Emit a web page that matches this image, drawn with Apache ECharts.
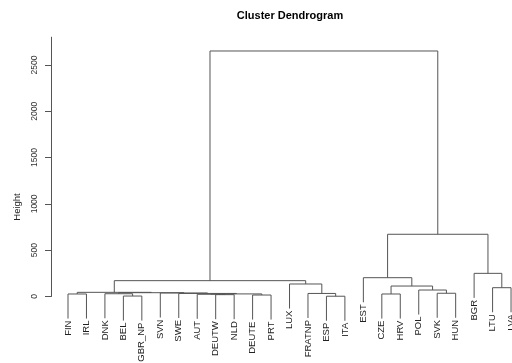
<!DOCTYPE html>
<html>
<head>
<meta charset="utf-8">
<script src="https://cdn.jsdelivr.net/npm/echarts@6/dist/echarts.min.js"></script>
<style>
  html, body { margin: 0; padding: 0; background: #fff; }
  #chart { width: 512px; height: 363px; }
</style>
</head>
<body>
<div id="chart"></div>
<script>
// Leaves in plotting order (leaf n sits at x = n)
const leafLabels = ['FIN', 'IRL', 'DNK', 'BEL', 'GBR_NP', 'SVN', 'SWE', 'AUT', 'DEUTW', 'NLD',
  'DEUTE', 'PRT', 'LUX', 'FRATNP', 'ESP', 'ITA', 'EST', 'CZE', 'HRV', 'POL', 'SVK', 'HUN',
  'BGR', 'LTU', 'LVA'];

// hclust-style merge table: negative = leaf number, positive = earlier merge row (1-based)
const mergeLeft  = [-15, -4, -11, -9, -8, -1, -18, 5, -3, -7, -14, -21, -6, 9, 6, -20, -24, 7, -13, 15, -17, -23, 21, 20];
const mergeRight = [-16, -5, -12, -10, 4, -2, -19, 3, 2, 8, 1, -22, 10, 13, 14, 12, -25, 16, 11, 19, 18, 17, 22, 23];
const mergeHeight = [3, 5, 16, 20, 24, 27, 27, 28, 30, 33, 33, 35, 38, 41, 45, 70, 95, 113, 135, 171, 203, 250, 672, 2651];

const heightTicks = [0, 500, 1000, 1500, 2000, 2500];

// leaves hang below their parent merge by a tenth of the tallest merge
const hang = 0.1 * Math.max(...mergeHeight);

const nodeX = [];
function childX(c) { return c < 0 ? -c : nodeX[c - 1]; }
mergeLeft.forEach((l, i) => { nodeX[i] = (childX(l) + childX(mergeRight[i])) / 2; });

const FONT = '"Liberation Sans", Arial, sans-serif';
const LINE = '#555';

function renderMerge(params, api) {
  const i = params.dataIndex;
  const h = mergeHeight[i];
  const l = mergeLeft[i], r = mergeRight[i];
  const xl = childX(l), xr = childX(r);
  const yl = l < 0 ? h - hang : mergeHeight[l - 1];
  const yr = r < 0 ? h - hang : mergeHeight[r - 1];
  const pts = [api.coord([xl, yl]), api.coord([xl, h]), api.coord([xr, h]), api.coord([xr, yr])];
  const children = [{
    type: 'polyline',
    shape: { points: pts },
    style: { stroke: LINE, lineWidth: 1, fill: null }
  }];
  [[l, pts[0]], [r, pts[3]]].forEach(([c, p]) => {
    if (c < 0) {
      children.push({
        type: 'text',
        x: p[0], y: p[1] + 2,
        rotation: Math.PI / 2,
        style: {
          text: leafLabels[-c - 1],
          x: 0, y: 0,
          align: 'right', verticalAlign: 'middle',
          textAlign: 'right', textVerticalAlign: 'middle',
          font: '9.5px ' + FONT,
          fill: '#222'
        }
      });
    }
  });
  return { type: 'group', children };
}

const chart = echarts.init(document.getElementById('chart'), null, { renderer: 'canvas' });
chart.setOption({
  animation: false,
  backgroundColor: '#fff',
  grid: { left: 51, right: 0, top: 37.2, bottom: 66.5, containLabel: false },
  xAxis: { type: 'value', min: 0.079, max: 25.052, show: false },
  yAxis: {
    type: 'value', min: 0, max: 2800,
    axisLine: { show: true, lineStyle: { color: LINE, width: 1 } },
    axisTick: { show: true, length: 6, customValues: heightTicks, lineStyle: { color: LINE } },
    axisLabel: {
      rotate: 90, margin: 12, customValues: heightTicks,
      formatter: v => String(v),
      fontSize: 8.5, fontFamily: FONT, color: '#333'
    },
    splitLine: { show: false }
  },
  graphic: [
    {
      type: 'text', x: 290, y: 16,
      style: {
        text: 'Cluster Dendrogram',
        align: 'center', verticalAlign: 'middle',
        textAlign: 'center', textVerticalAlign: 'middle',
        font: 'bold 11px ' + FONT, fill: '#000'
      }
    },
    {
      type: 'text', x: 17, y: 207, rotation: Math.PI / 2,
      style: {
        text: 'Height',
        align: 'center', verticalAlign: 'middle',
        textAlign: 'center', textVerticalAlign: 'middle',
        font: '9.5px ' + FONT, fill: '#222'
      }
    }
  ],
  series: [{
    type: 'custom',
    coordinateSystem: 'cartesian2d',
    clip: false,
    silent: true,
    renderItem: renderMerge,
    data: mergeHeight.map((h, i) => [nodeX[i], h])
  }]
});
</script>
</body>
</html>
